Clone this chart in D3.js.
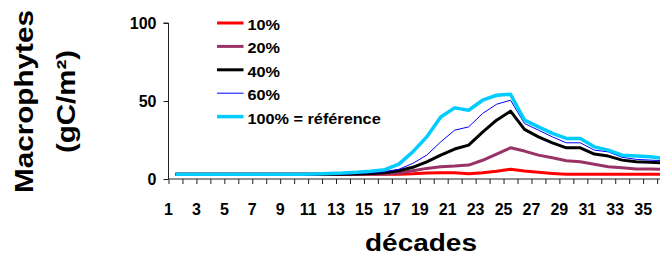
<!DOCTYPE html>
<html>
<head>
<meta charset="utf-8">
<script src="https://cdn.jsdelivr.net/npm/d3@7"></script>
<style>
    body { margin: 0; background: #fff; }
    text { font-family: Arial, "Liberation Sans", sans-serif; font-weight: bold; fill: #000; }
</style>
</head>
<body>
<div id="chart"></div>
<script>
var svgWidth = 660;
var svgHeight = 262;

// data
var decades = [1, 2, 3, 4, 5, 6, 7, 8, 9, 10, 11, 12, 13, 14, 15, 16, 17, 18,
    19, 20, 21, 22, 23, 24, 25, 26, 27, 28, 29, 30, 31, 32, 33, 34, 35, 36];
var xTickLabels = [1, 3, 5, 7, 9, 11, 13, 15, 17, 19, 21, 23, 25, 27, 29, 31, 33, 35];
var yTicks = [0, 50, 100];

var seriesNames = ["10%", "20%", "40%", "60%", "100% = référence"];
var s10 = [3, 3, 3, 3, 3, 3, 3, 3, 3, 3, 3, 3, 3, 3, 3, 3, 3, 3.3,
    3.8, 4, 4, 3.3, 4, 5, 6.3, 5.1, 4.3, 3.6, 3, 3, 3, 3, 3, 3, 3, 3];
var s20 = [3, 3, 3, 3, 3, 3, 3, 3, 3, 3, 3, 3, 3, 3, 3, 3.2, 3.8, 5.3,
    6.8, 7.9, 8.3, 8.9, 12, 16, 20, 17.9, 15.3, 13.6, 11.7, 11.1, 9.4, 7.9, 7.2, 6.4, 6.4, 6.2];
var s40 = [3, 3, 3, 3, 3, 3, 3, 3, 3, 3, 3, 3, 3, 3.2, 3.5, 4, 5.3, 7.5,
    11, 15.3, 19.2, 21.7, 30, 37.7, 43.5, 31.8, 27, 23.2, 20, 20, 16, 14.7, 12.1, 11.1, 10.7, 10.4];
var s60 = [3, 3, 3, 3, 3, 3, 3, 3, 3, 3, 3, 3, 3.2, 3.5, 4, 4.7, 6.2, 10,
    15.3, 23.8, 31.3, 33.4, 42, 47.9, 50.5, 35.6, 31.3, 27, 23.2, 23.2, 18.5, 17.4, 13.9, 12.6, 12.1, 11.7];
var s100 = [3, 3, 3, 3, 3, 3, 3, 3, 3, 3, 3.2, 3.5, 3.8, 4.3, 5, 6, 9.5, 17.4,
    27, 39.8, 45.6, 44.1, 50.5, 53.7, 54.3, 37.7, 33.4, 29.2, 26, 26, 20.6, 18.5, 15.3, 14.7, 14.2, 13.2];

var seriesStyle = [
    { color: "#ff0000", width: 3 },
    { color: "#993366", width: 3 },
    { color: "#000000", width: 3 },
    { color: "#0000ff", width: 1 },
    { color: "#00ccff", width: 3.5 }
];
var allSeries = [s10, s20, s40, s60, s100];

/********************************************************/

var plotLeft = 168.5;
var catWidth = 13.96;

var svg = d3.select("#chart")
    .append("svg")
    .attr("width", svgWidth)
    .attr("height", svgHeight);

var xScale = d3.scaleLinear()
    .domain([0, decades.length])
    .range([plotLeft, plotLeft + decades.length * catWidth]);

var yScale = d3.scaleLinear()
    .domain([0, 100])
    .range([179, 23]);

/********************************************************/

// y axis
var leftAxis = d3.axisLeft(yScale)
    .tickValues(yTicks)
    .tickSize(5)
    .tickPadding(7);

var yAxisG = svg.append("g")
    .attr("transform", `translate(${plotLeft}, 0)`)
    .call(leftAxis);
yAxisG.select(".domain").attr("d", `M-5,${yScale(100)}H0V${yScale(0)}`);
yAxisG.selectAll("line, path").attr("stroke", "#222");
yAxisG.selectAll("text")
    .attr("font-size", 16)
    .attr("font-family", "Arial, 'Liberation Sans', sans-serif")
    .attr("font-weight", "bold");

// x axis: ticks at category boundaries, labels under every other boundary
var bottomAxis = d3.axisBottom(xScale)
    .tickValues(d3.range(0, decades.length + 1))
    .tickSize(5)
    .tickFormat("");

var xAxisG = svg.append("g")
    .attr("transform", `translate(0, ${yScale(0)})`)
    .call(bottomAxis);
xAxisG.selectAll("line, path").attr("stroke", "#222");
xAxisG.select(".domain").attr("d", `M${plotLeft},0H${xScale(decades.length)}`);

svg.append("g")
    .selectAll("text")
    .data(xTickLabels)
    .enter()
    .append("text")
    .attr("x", d => xScale(d - 1))
    .attr("y", 215)
    .attr("text-anchor", "middle")
    .attr("font-size", 16)
    .text(d => d);

/********************************************************/

var line = d3.line()
    .x((d, i) => xScale(i + 0.5))
    .y(d => yScale(d));

svg.append("g")
    .selectAll("path")
    .data(allSeries)
    .enter()
    .append("path")
    .attr("d", d => line(d))
    .attr("fill", "none")
    .attr("stroke", (d, i) => seriesStyle[i].color)
    .attr("stroke-width", (d, i) => seriesStyle[i].width)
    .attr("stroke-linejoin", "round");

/********************************************************/

// legend
var legend = svg.append("g")
    .selectAll("g")
    .data(seriesNames)
    .enter()
    .append("g")
    .attr("transform", (d, i) => `translate(217, ${30 + i * 23.4})`);

legend.append("line")
    .attr("x1", 0)
    .attr("x2", 26.5)
    .attr("y1", -7)
    .attr("y2", -7)
    .attr("stroke", (d, i) => seriesStyle[i].color)
    .attr("stroke-width", (d, i) => seriesStyle[i].width);

legend.append("text")
    .attr("x", 30.5)
    .attr("y", 0)
    .attr("font-size", 14)
    .text(d => d)
    .each(function () {
        var w = this.getComputedTextLength();
        d3.select(this)
            .attr("textLength", w * 1.16)
            .attr("lengthAdjust", "spacingAndGlyphs");
    });

/********************************************************/

// axis titles
svg.append("text")
    .attr("transform", "translate(33, 101.5) rotate(-90)")
    .attr("text-anchor", "middle")
    .attr("font-size", 25)
    .attr("textLength", 183)
    .attr("lengthAdjust", "spacingAndGlyphs")
    .text("Macrophytes");

svg.append("text")
    .attr("transform", "translate(75, 101.5) rotate(-90)")
    .attr("text-anchor", "middle")
    .attr("font-size", 25)
    .attr("textLength", 103)
    .attr("lengthAdjust", "spacingAndGlyphs")
    .text("(gC/m²)");

svg.append("text")
    .attr("x", 421)
    .attr("y", 251)
    .attr("text-anchor", "middle")
    .attr("font-size", 23)
    .attr("textLength", 112)
    .attr("lengthAdjust", "spacingAndGlyphs")
    .text("décades");
</script>
</body>
</html>
